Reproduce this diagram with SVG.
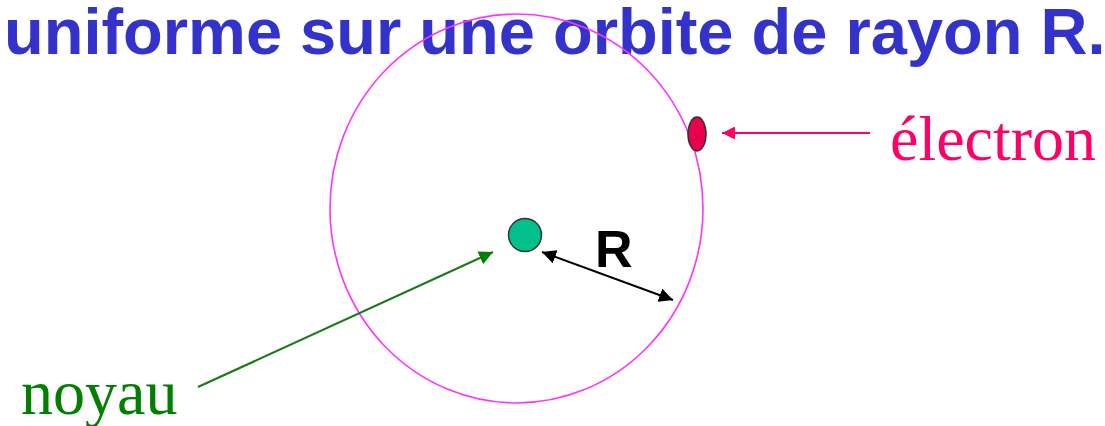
<svg xmlns="http://www.w3.org/2000/svg" width="1105" height="426" viewBox="0 0 1105 426">
  <style>
    .title { font-family: "Liberation Sans", Arial, sans-serif; font-weight: bold; font-size: 65px; fill: #3333cc; }
    .serif { font-family: "Liberation Serif", "Times New Roman", serif; font-size: 64px; }
    .rlab { font-family: "Liberation Sans", Arial, sans-serif; font-weight: bold; font-size: 52px; fill: #000000; }
  </style>
  <defs>
    <marker id="ahRed" viewBox="0 0 10 10" refX="10" refY="5" markerWidth="13" markerHeight="13" markerUnits="userSpaceOnUse" orient="auto">
      <path d="M0,0 L10,5 L0,10 z" fill="#ff0066"/>
    </marker>
    <marker id="ahGreen" viewBox="0 0 10 10" refX="10" refY="5" markerWidth="14" markerHeight="14" markerUnits="userSpaceOnUse" orient="auto">
      <path d="M0,0 L10,5 L0,10 z" fill="#008000"/>
    </marker>
    <marker id="ahBlack" viewBox="0 0 10 10" refX="10" refY="5" markerWidth="14" markerHeight="14" markerUnits="userSpaceOnUse" orient="auto-start-reverse">
      <path d="M0,0 L10,5 L0,10 z" fill="#000000"/>
    </marker>
  </defs>
  <rect width="1105" height="426" fill="#ffffff"/>
  <g id="title">
    <text class="title" x="4" y="54">uniforme sur une orbite de rayon R.</text>
  </g>
  <g id="orbit">
    <ellipse cx="516.5" cy="208.5" rx="186.5" ry="194.5" fill="none" stroke="#ff33ff" stroke-width="1.6"/>
  </g>
  <g id="noyau-node">
    <circle cx="525" cy="235" r="16.5" fill="#00c08b" stroke="#333333" stroke-width="1.5"/>
  </g>
  <g id="electron-node">
    <ellipse cx="697" cy="134" rx="9" ry="17" fill="#e8004f" stroke="#333333" stroke-width="1.5"/>
  </g>
  <g id="connectors">
    <line x1="870" y1="133" x2="722" y2="133" stroke="#ff0066" stroke-width="2" marker-end="url(#ahRed)"/>
    <line x1="198" y1="387" x2="493" y2="252" stroke="#1a7a1a" stroke-width="2.2" marker-end="url(#ahGreen)"/>
    <line x1="542" y1="252" x2="673" y2="300" stroke="#000000" stroke-width="2" marker-start="url(#ahBlack)" marker-end="url(#ahBlack)"/>
  </g>
  <g id="labels">
    <text class="serif" x="890" y="160" fill="#ff0066">électron</text>
    <text class="serif" x="21" y="414" fill="#008000">noyau</text>
    <text class="rlab" x="595" y="267">R</text>
  </g>
</svg>
